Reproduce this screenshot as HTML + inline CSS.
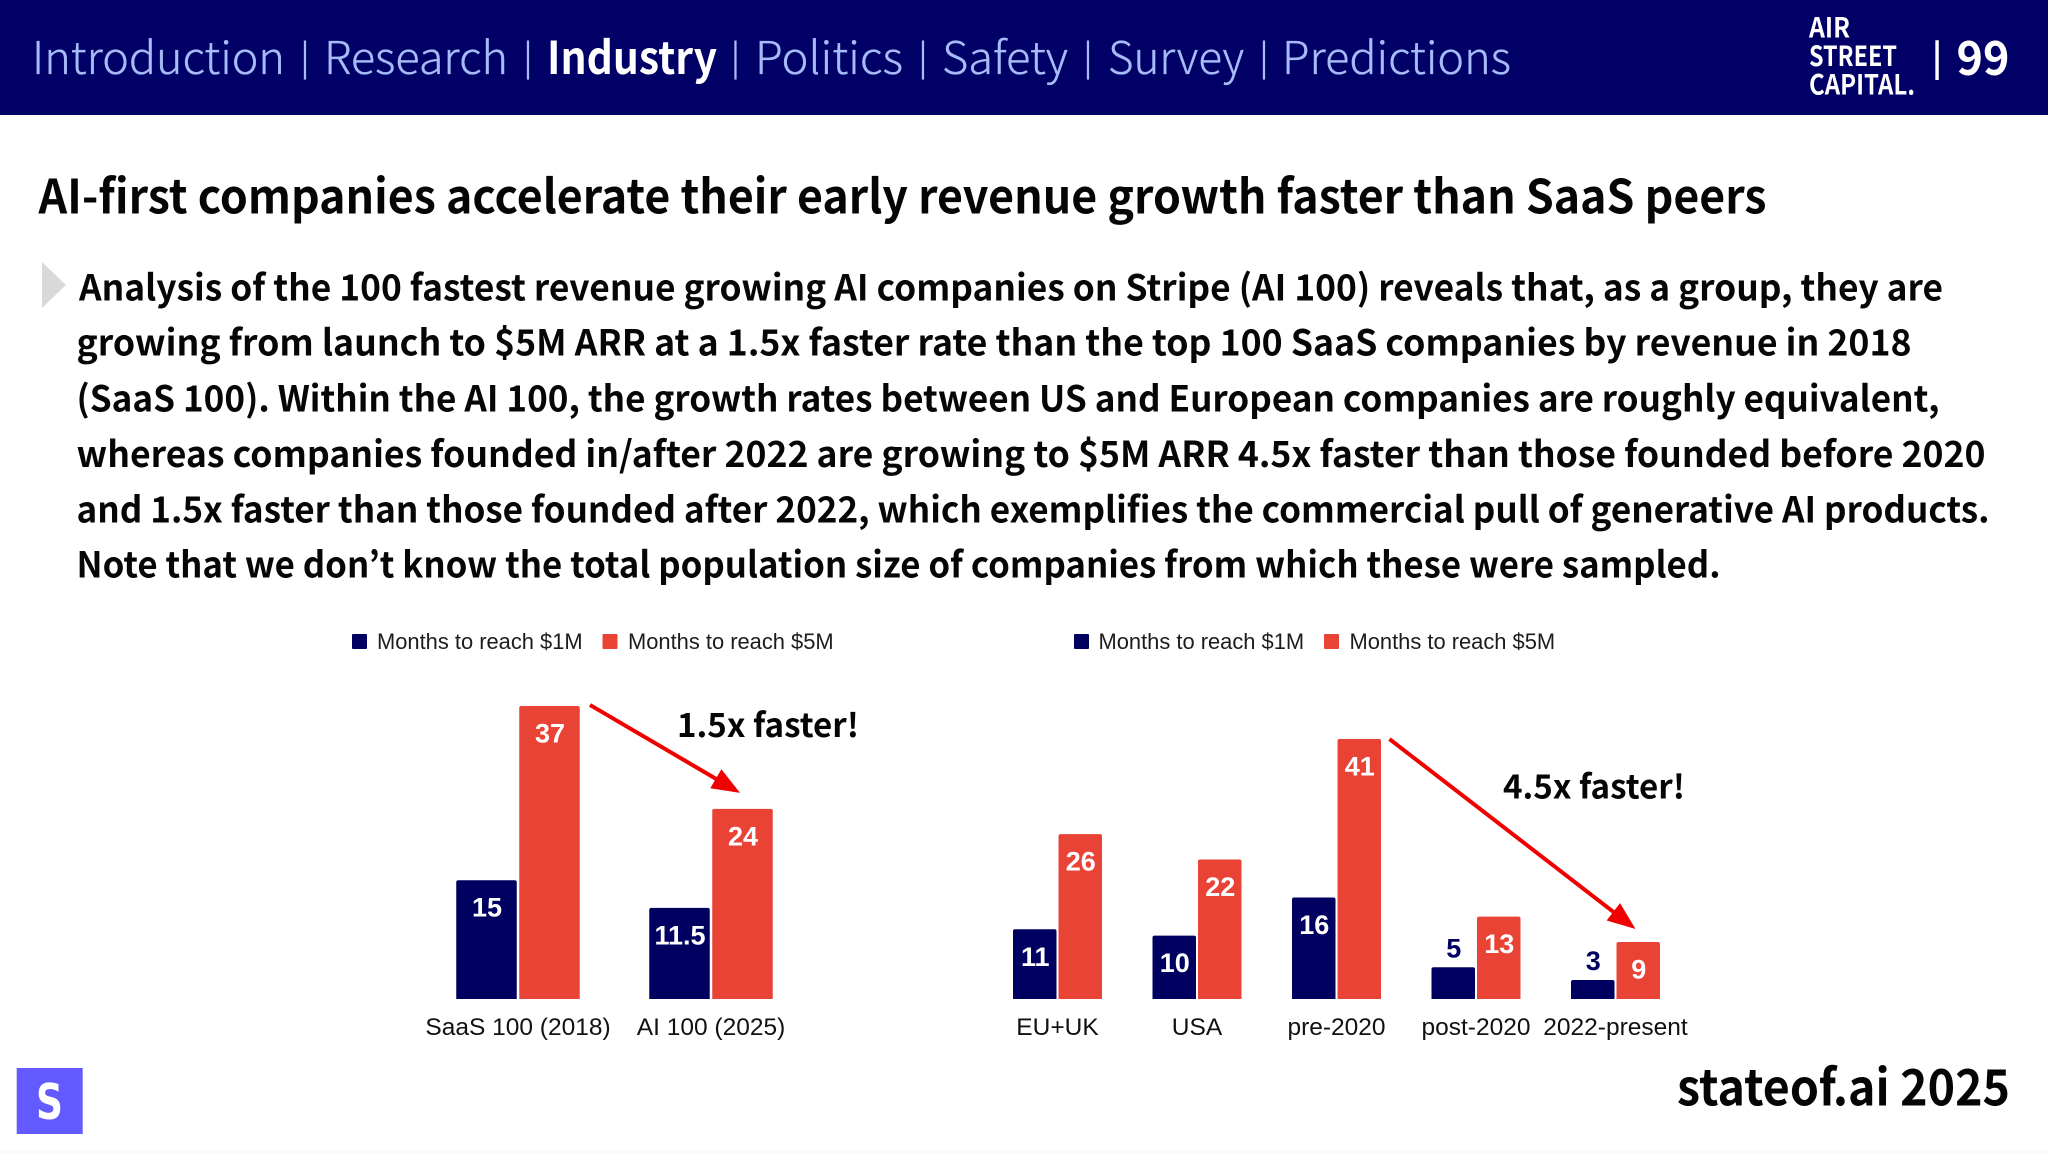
<!DOCTYPE html>
<html lang="en">
<head>
<meta charset="utf-8">
<title>AI-first companies accelerate their early revenue growth faster than SaaS peers</title>
<style>
html,body{margin:0;padding:0;background:#fff;width:2048px;height:1154px;overflow:hidden}
svg{display:block}
.nt{font-family:"Noto Sans CJK JP","Liberation Sans",sans-serif}
.nav{font-size:45px;font-weight:300;fill:#a6bbf7;stroke:#a6bbf7;stroke-width:.35px}
.sep{font-size:35px;font-weight:400;fill:#a6bbf7}
.body-line{font-size:36px;font-weight:700;fill:#060606}
.lg{font-family:"Liberation Sans",sans-serif;font-size:21.9px;fill:#1c1c1c}
.logo{font-size:28px;font-weight:700;fill:#fff}
</style>
</head>
<body>
<svg id="slide" xmlns="http://www.w3.org/2000/svg" width="2048" height="1154" viewBox="0 0 2048 1154">
  <rect width="2048" height="1154" fill="#ffffff"/>
  <rect width="2048" height="115" fill="#000066"/>

  <g class="nt">
    <text class="nav" x="32" y="74" textLength="253" lengthAdjust="spacingAndGlyphs">Introduction</text>
    <text class="sep" x="305" y="70" text-anchor="middle">|</text>
    <text class="nav" x="324" y="74" textLength="184" lengthAdjust="spacingAndGlyphs">Research</text>
    <text class="sep" x="528" y="70" text-anchor="middle">|</text>
    <text class="nav" style="font-weight:700;fill:#fff;stroke:none" x="547" y="74" textLength="170" lengthAdjust="spacingAndGlyphs">Industry</text>
    <text class="sep" x="735.5" y="70" text-anchor="middle">|</text>
    <text class="nav" x="755" y="74" textLength="148" lengthAdjust="spacingAndGlyphs">Politics</text>
    <text class="sep" x="923" y="70" text-anchor="middle">|</text>
    <text class="nav" x="942" y="74" textLength="126" lengthAdjust="spacingAndGlyphs">Safety</text>
    <text class="sep" x="1088" y="70" text-anchor="middle">|</text>
    <text class="nav" x="1108" y="74" textLength="136" lengthAdjust="spacingAndGlyphs">Survey</text>
    <text class="sep" x="1264" y="70" text-anchor="middle">|</text>
    <text class="nav" x="1282" y="74" textLength="229" lengthAdjust="spacingAndGlyphs">Predictions</text>
  </g>

  <g class="nt">
    <text class="logo" x="1809" y="37.7" textLength="41" lengthAdjust="spacingAndGlyphs">AIR</text>
    <text class="logo" x="1809" y="66" textLength="88" lengthAdjust="spacingAndGlyphs">STREET</text>
    <text class="logo" x="1809" y="94.7" textLength="106" lengthAdjust="spacingAndGlyphs">CAPITAL.</text>
  </g>
  <text class="nt" x="1937" y="70" text-anchor="middle" font-size="35" font-weight="700" fill="#fff">|</text>
  <text class="nt" x="1956.5" y="75" font-size="47" font-weight="700" fill="#fff" textLength="53" lengthAdjust="spacingAndGlyphs">99</text>

  <text class="nt" x="38.5" y="213.7" font-size="47" font-weight="700" fill="#050505" textLength="1728" lengthAdjust="spacingAndGlyphs">AI-first companies accelerate their early revenue growth faster than SaaS peers</text>

  <polygon points="42,262 66,285 42,308" fill="#d9d9d9"/>
  <g class="nt">
    <text class="body-line" x="79" y="300.3" textLength="1864" lengthAdjust="spacingAndGlyphs">Analysis of the 100 fastest revenue growing AI companies on Stripe (AI 100) reveals that, as a group, they are</text>
    <text class="body-line" x="76.5" y="355.6" textLength="1835" lengthAdjust="spacingAndGlyphs">growing from launch to $5M ARR at a 1.5x faster rate than the top 100 SaaS companies by revenue in 2018</text>
    <text class="body-line" x="76.5" y="411.3" textLength="1863" lengthAdjust="spacingAndGlyphs">(SaaS 100). Within the AI 100, the growth rates between US and European companies are roughly equivalent,</text>
    <text class="body-line" x="76.5" y="467" textLength="1909" lengthAdjust="spacingAndGlyphs">whereas companies founded in/after 2022 are growing to $5M ARR 4.5x faster than those founded before 2020</text>
    <text class="body-line" x="76.5" y="522.3" textLength="1913" lengthAdjust="spacingAndGlyphs">and 1.5x faster than those founded after 2022, which exemplifies the commercial pull of generative AI products.</text>
    <text class="body-line" x="76.5" y="577.6" textLength="1644" lengthAdjust="spacingAndGlyphs">Note that we don’t know the total population size of companies from which these were sampled.</text>
  </g>

  <g>
    <rect x="352" y="634" width="15" height="15" rx="1" fill="#000060"/>
    <text class="lg" x="377" y="649">Months to reach $1M</text>
    <rect x="602.5" y="634" width="15" height="15" rx="1" fill="#e94335"/>
    <text class="lg" x="628" y="649">Months to reach $5M</text>
  </g>
  <g>
    <rect x="1074" y="634" width="15" height="15" rx="1" fill="#000060"/>
    <text class="lg" x="1098.5" y="649">Months to reach $1M</text>
    <rect x="1324" y="634" width="15" height="15" rx="1" fill="#e94335"/>
    <text class="lg" x="1349.5" y="649">Months to reach $5M</text>
  </g>

  <g id="left-chart"></g>
  <g id="right-chart"></g>

  <text class="nt" x="677" y="737.2" font-size="33" font-weight="700" fill="#050505" textLength="182" lengthAdjust="spacingAndGlyphs">1.5x faster!</text>
  <text class="nt" x="1503" y="798.5" font-size="33" font-weight="700" fill="#050505" textLength="182" lengthAdjust="spacingAndGlyphs">4.5x faster!</text>

  <rect x="16.7" y="1068" width="66" height="66" fill="#635bff"/>
  <text font-family="'DejaVu Sans',sans-serif" x="36" y="1119" font-size="49" font-weight="700" fill="#fff" textLength="27" lengthAdjust="spacingAndGlyphs">S</text>
  <text class="nt" x="1677" y="1105.7" font-size="50" font-weight="700" fill="#050505" textLength="333" lengthAdjust="spacingAndGlyphs">stateof.ai 2025</text>
  <rect x="0" y="1150" width="2048" height="4" fill="#fafafa"/>
</svg>

<script>
const leftCategories = ["SaaS 100 (2018)", "AI 100 (2025)"];
const leftMonthsTo1M = [15, 11.5];
const leftMonthsTo5M = [37, 24];

const rightCategories = ["EU+UK", "USA", "pre-2020", "post-2020", "2022-present"];
const rightMonthsTo1M = [11, 10, 16, 5, 3];
const rightMonthsTo5M = [26, 22, 41, 13, 9];

const NS = "http://www.w3.org/2000/svg";
const NAVY = "#000060";
const RED = "#e94335";
const BASELINE = 999;

function make(parent, tag, attrs, text) {
  const node = document.createElementNS(NS, tag);
  for (const k in attrs) node.setAttribute(k, attrs[k]);
  if (text !== undefined) node.textContent = text;
  parent.appendChild(node);
  return node;
}

function drawChart(root, cats, series1, series5, xCenter, yScale, barW, gap) {
  cats.forEach(function (cat, i) {
    const cx = xCenter(i);
    const group = [
      { v: series1[i], x: cx - gap / 2 - barW, fill: NAVY, nm: "bar-1m" },
      { v: series5[i], x: cx + gap / 2, fill: RED, nm: "bar-5m" }
    ];
    group.forEach(function (b) {
      const top = yScale(b.v);
      const h = BASELINE - top;
      const bar = make(root, "path", {
        d: "M" + b.x + " " + BASELINE + "V" + (top + 2) + "Q" + b.x + " " + top + " " + (b.x + 2) + " " + top +
           "H" + (b.x + barW - 2) + "Q" + (b.x + barW) + " " + top + " " + (b.x + barW) + " " + (top + 2) + "V" + BASELINE + "Z",
        fill: b.fill
      });
      
      

      const outside = h < 45;
      const label = make(root, "text", {
        x: b.x + barW / 2 + 0.5,
        y: outside ? top - 10 : top + 36.5,
        "text-anchor": "middle",
        "font-family": '"Liberation Sans", sans-serif',
        "font-weight": "700",
        "font-size": "27",
        fill: outside ? NAVY : "#ffffff"
      }, String(b.v));
      
      
    });

    const tick = make(root, "text", {
      x: cx,
      y: 1035,
      "text-anchor": "middle",
      "font-family": '"Liberation Sans", sans-serif',
      "font-size": "24.5",
      fill: "#111111"
    }, cat);
    
    
  });
}

function drawArrow(root, x1, y1, x2, y2) {
  const dx = x2 - x1, dy = y2 - y1;
  const len = Math.sqrt(dx * dx + dy * dy);
  const ux = dx / len, uy = dy / len;
  const headLen = 28, headHalf = 11;
  const bx = x2 - ux * headLen, by = y2 - uy * headLen;
  const shaft = make(root, "line", {
    x1: x1, y1: y1, x2: bx + ux * 2, y2: by + uy * 2,
    stroke: "#f00000", "stroke-width": "4"
  });
  
  
  const head = make(root, "polygon", {
    points: x2 + "," + y2 + " " + (bx - uy * headHalf) + "," + (by + ux * headHalf) + " " + (bx + uy * headHalf) + "," + (by - ux * headHalf),
    fill: "#f00000"
  });
  
  
}

const leftX = function (i) { return 518 + 193 * i; };
const leftY = function (v) { return BASELINE - v * 7.92; };
const rightX = function (i) { return 1057.5 + 139.5 * i; };
const rightY = function (v) { return BASELINE - v * 6.34; };

const leftRoot = document.getElementById("left-chart");
const rightRoot = document.getElementById("right-chart");
drawChart(leftRoot, leftCategories, leftMonthsTo1M, leftMonthsTo5M, leftX, leftY, 60.5, 2.5);
drawChart(rightRoot, rightCategories, rightMonthsTo1M, rightMonthsTo5M, rightX, rightY, 43.5, 2);

drawArrow(leftRoot, leftX(0) + 72, leftY(leftMonthsTo5M[0]) - 1, leftX(1) + 29, leftY(leftMonthsTo5M[1]) - 16);
drawArrow(rightRoot, rightX(2) + 53, rightY(rightMonthsTo5M[2]), rightX(4) + 20, rightY(rightMonthsTo5M[4]) - 13);
</script>
</body>
</html>
